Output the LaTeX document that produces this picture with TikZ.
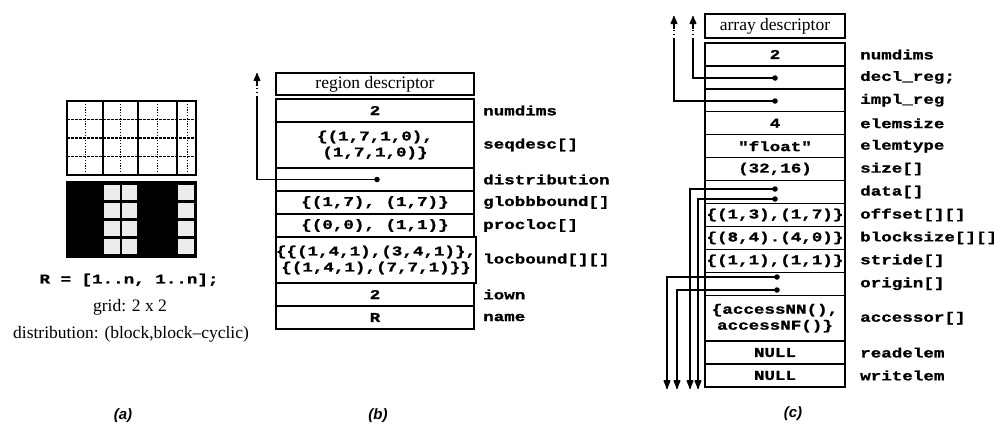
\documentclass[tikz,border=0pt]{standalone}
\usepackage{fontspec}
\setmainfont{Liberation Serif}
\newfontfamily\monofnt{Liberation Mono}[FakeStretch=1.3,FakeBold=1.2]
\newfontfamily\capfnt{Liberation Sans}
\usetikzlibrary{arrows.meta}
\begin{document}
\begin{tikzpicture}[x=1pt,y=-1pt,
  tbl/.style={draw, line width=1.3pt, inner sep=0pt, outer sep=0pt, anchor=north west, align=center},
  mtxt/.style={font=\monofnt\bfseries\fontsize{13.5}{16}\selectfont},
  stxt/.style={font=\fontsize{17.5}{20}\selectfont},
  fld/.style={anchor=west, inner sep=0pt, font=\monofnt\bfseries\fontsize{13.5}{16}\selectfont},
  ptr/.style={line width=1.3pt},
  dot/.style={circle, fill, inner sep=0pt, minimum size=5.5pt},
  tipup/.style={line width=1.3pt, -{Latex[length=10pt,width=8pt,round]}},
  tipdown/.style={line width=1.3pt, -{Latex[length=11pt,width=8pt,round]}},
  gapline/.style={line width=1.1pt, dash pattern=on 1.5pt off 2.5pt},
  capt/.style={font=\capfnt\bfseries\itshape\fontsize{15}{18}\selectfont}
]
\useasboundingbox (0,0) rectangle (1002,424);

% ---------------- (a) ----------------
\draw[line width=2pt] (67,101) rectangle (196,175);
\foreach \x in {103,138,177} \draw[line width=1.6pt] (\x,101) -- (\x,175);
\foreach \x in {85,120,157,187} \draw[line width=1pt, dash pattern=on 1.2pt off 1.6pt] (\x,101) -- (\x,175);
\foreach \y in {119.5,138,156.5} \draw[line width=1.4pt, dash pattern=on 2.5pt off 1.5pt] (67,\y) -- (196,\y);
\fill (67,182) rectangle (196,257);
\foreach \y in {185,203,221,239} {
  \foreach \x/\w in {104/16,122/15,178/16} \fill[gray!15] (\x,\y) rectangle ++(\w,15);
}
\draw[line width=2pt] (67,182) rectangle (196,257);
\node[mtxt] (rdecl) at (129,280) {R = [1..n, 1..n];};
\node[stxt] (grid) at (130,307) {grid: 2 x 2};
\node[stxt] (distr) at (131,334) {distribution: (block,block--cyclic)};
\node[capt] (capa) at (123,416) {(a)};

% ---------------- (b) ----------------
\node[tbl, stxt, minimum width=198pt, minimum height=22pt] (bh) at (276,73) {region descriptor};
\node[tbl, mtxt, minimum width=198pt, minimum height=23pt] (b1) at (276,99) {2};
\node[tbl, mtxt, minimum width=198pt, minimum height=46pt] (b2) at (276,122) {\{(1,7,1,0),\\(1,7,1,0)\}};
\node[tbl, mtxt, minimum width=198pt, minimum height=23pt] (b3) at (276,168) {};
\node[tbl, mtxt, minimum width=198pt, minimum height=23pt] (b4) at (276,191) {\{(1,7), (1,7)\}};
\node[tbl, mtxt, minimum width=198pt, minimum height=23pt] (b5) at (276,214) {\{(0,0), (1,1)\}};
\node[tbl, mtxt, minimum width=198pt, minimum height=46pt] (b6) at (276,237) {\{\{(1,4,1),(3,4,1)\},\\\{(1,4,1),(7,7,1)\}\}};
\node[tbl, mtxt, minimum width=198pt, minimum height=23pt] (b7) at (276,283) {2};
\node[tbl, mtxt, minimum width=198pt, minimum height=23pt] (b8) at (276,306) {R};

\node[fld] (lb1) at (483,110.5) {numdims};
\node[fld] (lb2) at (483,145) {seqdesc[]};
\node[fld] (lb3) at (483,179.5) {distribution};
\node[fld] (lb4) at (483,202.5) {globbbound[]};
\node[fld] (lb5) at (483,225.5) {procloc[]};
\node[fld] (lb6) at (483,260) {locbound[][]};
\node[fld] (lb7) at (483,294.5) {iown};
\node[fld] (lb8) at (483,317.5) {name};

\node[dot] (bd) at (377,179.5) {};
\coordinate (bgap) at (257,97);
\coordinate (bhead) at (257,86);
\coordinate (btip) at (257,73);
\draw[ptr] (bd.center) -| (bgap);
\draw[gapline] (bgap) -- (bhead);
\draw[tipup] (bhead) -- (btip);
\node[capt] (capb) at (378,416) {(b)};

% ---------------- (c) ----------------
\node[tbl, stxt, minimum width=140pt, minimum height=24pt] (ch) at (705,14) {array descriptor};
\node[tbl, mtxt, minimum width=140pt, minimum height=22.93pt] (c0) at (705,43) {2};
\node[tbl, mtxt, minimum width=140pt, minimum height=22.93pt] (c1) at (705,65.93) {};
\node[tbl, mtxt, minimum width=140pt, minimum height=22.93pt] (c2) at (705,88.86) {};
\node[tbl, mtxt, minimum width=140pt, minimum height=22.93pt] (c3) at (705,111.79) {4};
\node[tbl, mtxt, minimum width=140pt, minimum height=22.93pt] (c4) at (705,134.72) {"float"};
\node[tbl, mtxt, minimum width=140pt, minimum height=22.93pt] (c5) at (705,157.65) {(32,16)};
\node[tbl, mtxt, minimum width=140pt, minimum height=22.93pt] (c6) at (705,180.58) {};
\node[tbl, mtxt, minimum width=140pt, minimum height=22.93pt] (c7) at (705,203.51) {\{(1,3),(1,7)\}};
\node[tbl, mtxt, minimum width=140pt, minimum height=22.93pt] (c8) at (705,226.44) {\{(8,4).(4,0)\}};
\node[tbl, mtxt, minimum width=140pt, minimum height=22.93pt] (c9) at (705,249.37) {\{(1,1),(1,1)\}};
\node[tbl, mtxt, minimum width=140pt, minimum height=22.93pt] (c10) at (705,272.3) {};
\node[tbl, mtxt, minimum width=140pt, minimum height=45.86pt] (c11) at (705,295.23) {\{accessNN(),\\accessNF()\}};
\node[tbl, mtxt, minimum width=140pt, minimum height=22.93pt] (c13) at (705,341.09) {NULL};
\node[tbl, mtxt, minimum width=140pt, minimum height=22.93pt] (c14) at (705,364.02) {NULL};

\node[fld] (lc0) at (860,54.5) {numdims};
\node[fld] (lc1) at (860,77.4) {decl\_reg;};
\node[fld] (lc2) at (860,100.3) {impl\_reg};
\node[fld] (lc3) at (860,123.3) {elemsize};
\node[fld] (lc4) at (860,146.2) {elemtype};
\node[fld] (lc5) at (860,169.1) {size[]};
\node[fld] (lc6) at (860,192.0) {data[]};
\node[fld] (lc7) at (860,215.0) {offset[][]};
\node[fld] (lc8) at (860,237.9) {blocksize[][]};
\node[fld] (lc9) at (860,260.8) {stride[]};
\node[fld] (lc10) at (860,283.8) {origin[]};
\node[fld] (lc11) at (860,318.2) {accessor[]};
\node[fld] (lc13) at (860,352.6) {readelem};
\node[fld] (lc14) at (860,375.5) {writelem};

\node[dot] (cdecl) at (775,78) {};
\node[dot] (cimpl) at (775,101) {};
\node[dot] (cdataA) at (775,189) {};
\node[dot] (cdataB) at (775,199) {};
\node[dot] (corigA) at (777,277) {};
\node[dot] (corigB) at (777,290) {};

\coordinate (dgap) at (693,39);
\coordinate (dhead) at (693,29);
\coordinate (dtip) at (693,16);
\coordinate (igap) at (674,39);
\coordinate (ihead) at (674,29);
\coordinate (itip) at (674,16);
\draw[ptr] (cdecl.center) -| (dgap);
\draw[gapline] (dgap) -- (dhead);
\draw[tipup] (dhead) -- (dtip);
\draw[ptr] (cimpl.center) -| (igap);
\draw[gapline] (igap) -- (ihead);
\draw[tipup] (ihead) -- (itip);

\coordinate (tA) at (690,389);
\coordinate (tB) at (698,389);
\coordinate (tC) at (667,389);
\coordinate (tD) at (677,389);
\draw[tipdown] (cdataA.center) -| (tA);
\draw[tipdown] (cdataB.center) -| (tB);
\draw[tipdown] (corigA.center) -| (tC);
\draw[tipdown] (corigB.center) -| (tD);

\node[capt] (capc) at (793,414) {(c)};
\end{tikzpicture}
\end{document}
